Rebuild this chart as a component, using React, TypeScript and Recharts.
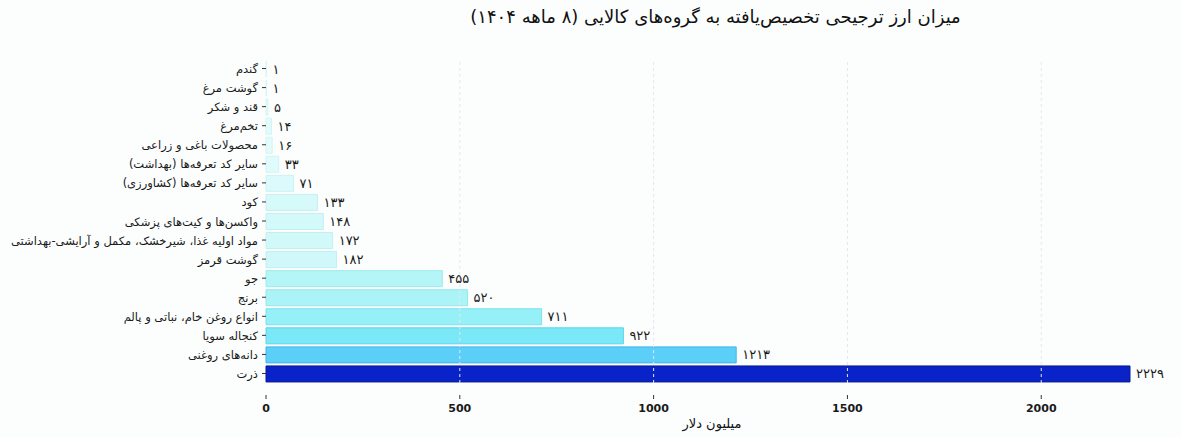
import { BarChart, Bar, XAxis, YAxis, Cell, LabelList, ReferenceLine } from "recharts"

const categories = [
  "گندم",
  "گوشت مرغ",
  "قند و شکر",
  "تخم‌مرغ",
  "محصولات باغی و زراعی",
  "سایر کد تعرفه‌ها (بهداشت)",
  "سایر کد تعرفه‌ها (کشاورزی)",
  "کود",
  "واکسن‌ها و کیت‌های پزشکی",
  "مواد اولیه غذا، شیرخشک، مکمل و آرایشی-بهداشتی",
  "گوشت قرمز",
  "جو",
  "برنج",
  "انواع روغن خام، نباتی و پالم",
  "کنجاله سویا",
  "دانه‌های روغنی",
  "ذرت",
]

const values = [1, 1, 5, 14, 16, 33, 71, 133, 148, 172, 182, 455, 520, 711, 922, 1213, 2229]

const xTicks = [0, 500, 1000, 1500, 2000]

// fill / border per bar, light cyan -> dark blue
const fills = [
  "#e6fcfc", "#e6fcfc", "#e4fcfc", "#e2fbfb", "#e2fbfb", "#e0fbfb", "#dcfafb",
  "#d6f9fa", "#d4f9fa", "#d2f9fa", "#d0f8fa", "#b4f6f8", "#aaf4f7", "#96f0f7",
  "#7ae8f7", "#5ccff8", "#0a23c8",
]
const strokes = [
  "#d8f4f4", "#d8f4f4", "#d6f4f4", "#d4f3f3", "#d4f3f3", "#d2f3f3", "#ccf2f3",
  "#c6f0f2", "#c4f0f2", "#c2f0f2", "#c0eff2", "#a0eaee", "#94e6ec", "#7ee0ec",
  "#5ed2ee", "#44b4e6", "#0a1a8e",
]

const data = categories.map((name, i) => ({ name, value: values[i] }))

const faDigits = "۰۱۲۳۴۵۶۷۸۹"
const toFa = (n: number) => String(n).replace(/\d/g, (d) => faDigits[+d])

const font = "'DejaVu Sans', sans-serif"

const YTick = (props: any) => {
  const { x, y, payload } = props
  return (
    <text x={x} y={y} dy={4.5} direction="rtl" textAnchor="start" fontSize={11.5} fill="#1a1a1a" fontFamily={font}>
      {payload.value}
    </text>
  )
}

const XTick = (props: any) => {
  const { x, y, payload } = props
  return (
    <g>
      <line x1={x} x2={x} y1={y + 12} y2={y + 16} stroke="#333" strokeWidth={1} />
      <text x={x} y={y + 29} textAnchor="middle" fontSize={11} fontWeight="bold" fill="#1a1a1a" fontFamily={font}>
        {payload.value}
      </text>
    </g>
  )
}

const ValueLabel = (props: any) => {
  const { x, y, width, height, value } = props
  return (
    <text x={x + width + 6} y={y + height / 2} dy={4.5} fontSize={13} fill="#1a1a1a" fontFamily={font}>
      {toFa(value)}
    </text>
  )
}

export default function App() {
  return (
    <div style={{ position: "relative", width: 1181, height: 438, background: "#fcfefe", fontFamily: font }}>
      <style>{`body{margin:0}`}</style>
      <div style={{ position: "absolute", top: 6, left: 0, width: 1181, paddingLeft: 250, boxSizing: "border-box", textAlign: "center", fontSize: 18, color: "#111", direction: "rtl" }}>
        میزان ارز ترجیحی تخصیص‌یافته به گروه‌های کالایی (۸ ماهه ۱۴۰۴)
      </div>
      <div style={{ position: "absolute", top: 416, left: 612, width: 200, textAlign: "center", fontSize: 13, color: "#111", direction: "rtl" }}>
        میلیون دلار
      </div>
      <BarChart
        width={1181}
        height={438}
        data={data}
        layout="vertical"
        margin={{ top: 59, right: 51, bottom: 0, left: 0 }}
        barSize={16}
      >
        <XAxis
          type="number"
          domain={[0, 2229]}
          ticks={xTicks}
          axisLine={false}
          tickLine={false}
          tickSize={0}
          tickMargin={0}
          tick={<XTick />}
          height={55}
        />
        <YAxis
          type="category"
          dataKey="name"
          width={266}
          axisLine={false}
          tickSize={4}
          tickMargin={4}
          tickLine={{ stroke: "#333" }}
          tick={<YTick />}
          interval={0}
        />
        <Bar dataKey="value" isAnimationActive={false}>
          {data.map((d, i) => (
            <Cell key={d.name} fill={fills[i]} stroke={strokes[i]} strokeWidth={1} />
          ))}
          <LabelList dataKey="value" content={<ValueLabel />} />
        </Bar>
        {xTicks.slice(1).map((t) => (
          <ReferenceLine key={t} x={t} stroke="#e4e8ea" strokeDasharray="3 3" strokeWidth={1} />
        ))}
      </BarChart>
    </div>
  )
}
